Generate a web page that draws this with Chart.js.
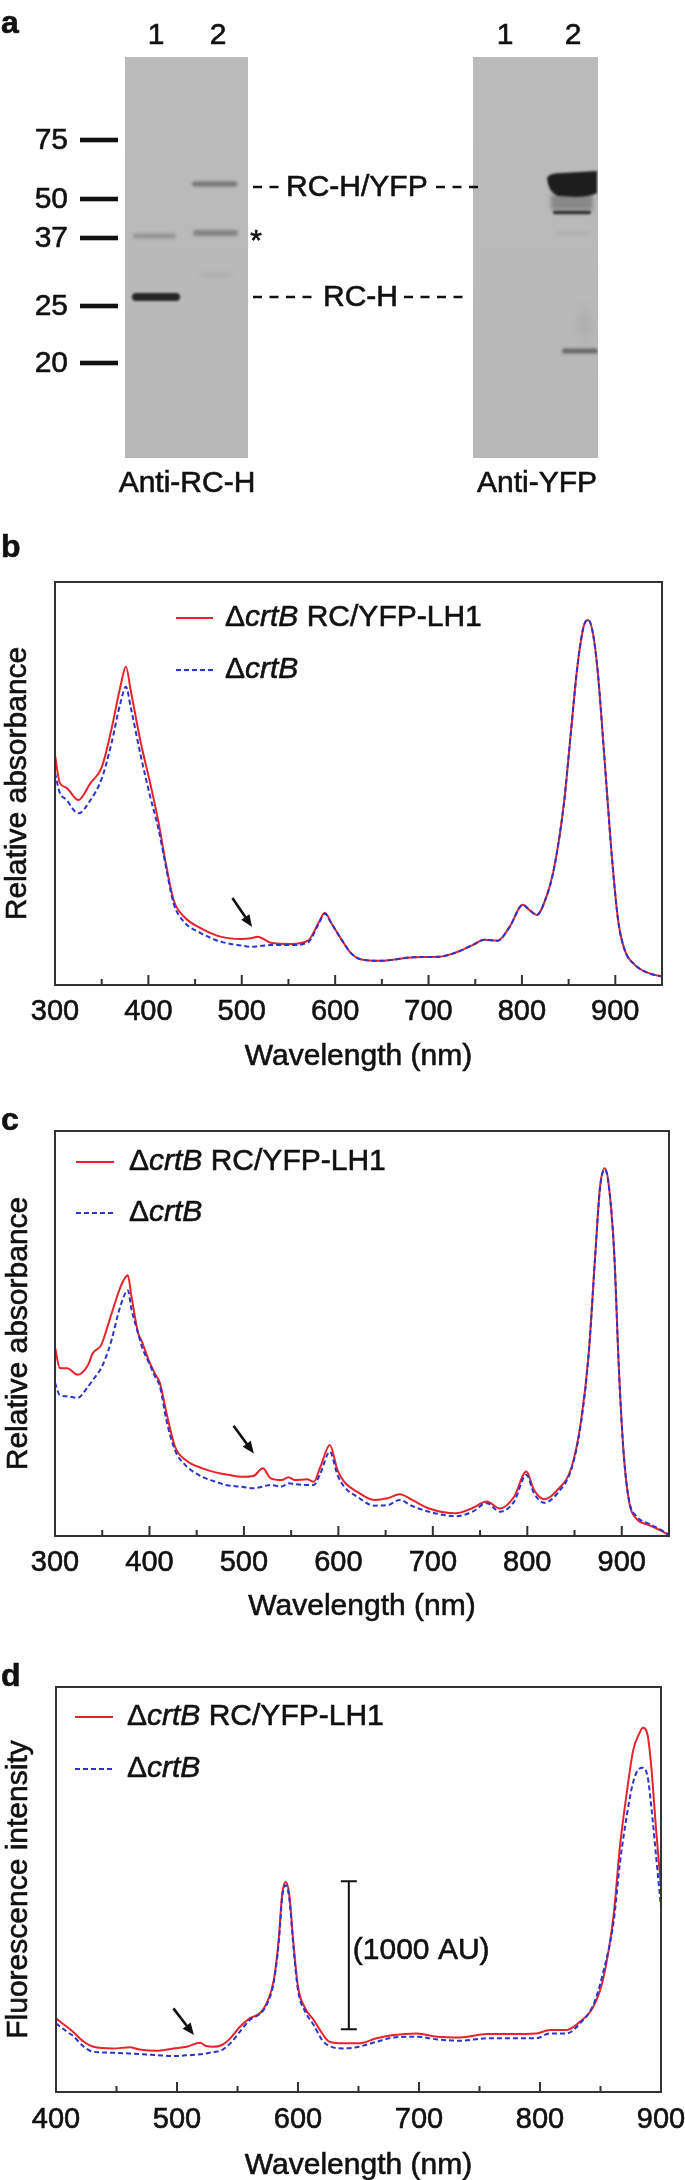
<!DOCTYPE html>
<html>
<head>
<meta charset="utf-8">
<script src="https://cdn.jsdelivr.net/npm/chart.js@4.4.1/dist/chart.umd.min.js"></script>
<style>
  html, body { margin: 0; padding: 0; background: #fff; overflow: hidden; }
  #page { position: relative; width: 685px; height: 2180px; }
  canvas { position: absolute; left: 0; }
</style>
</head>
<body>
<div id="page">
  <canvas id="blot" width="685" height="520" style="top:0"></canvas>
  <canvas id="chartB" width="685" height="560" style="top:520px"></canvas>
  <canvas id="chartC" width="685" height="550" style="top:1080px"></canvas>
  <canvas id="chartD" width="685" height="550" style="top:1630px"></canvas>
</div>
<script>
// ---- data ----
const legendLabels = ['ΔcrtB RC/YFP-LH1', 'ΔcrtB'];
const markerLabels = ['75', '50', '37', '25', '20'];
const laneLabels = ['1', '2'];
const blotTitles = ['Anti-RC-H', 'Anti-YFP'];
const bandLabels = ['RC-H/YFP', 'RC-H'];

const absTicks = [300, 400, 500, 600, 700, 800, 900];
const absMinorTicks = [350, 450, 550, 650, 750, 850];
const flTicks = [400, 500, 600, 700, 800, 900];
const flMinorTicks = [450, 550, 650, 750, 850];

// b: whole-cell absorbance (relative units)
const wavelengthsB = [300,305,312,325,338,350,360,370,376,381,392,402,411,418,427,438,456,477,499,510,517,531,553,571,582,589,596,607,617,627,649,685,711,732,747,760,774,787,801,808,816,825,834,845,852,859,866,871,876,881,888,896,903,910,921,935,950];
const mutantB = [57.1,50.2,49.0,45.9,50.1,54.0,63.0,74.0,79.0,73.2,60.0,50.0,40.2,31.0,21.1,17.0,14.1,12.0,11.4,11.6,12.0,10.5,10.2,11.0,15.3,17.9,15.3,11.2,7.9,6.4,6.0,6.9,7.0,8.3,9.9,11.2,11.0,14.5,19.9,18.6,17.4,21.1,28.5,45.1,61.6,78.2,88.9,90.6,87.3,78.2,57.5,32.7,16.1,8.7,5.0,3.0,2.1];
const controlB = [52.6,47.8,46.0,42.6,45.9,51.2,59.5,69.9,74.0,69.0,56.7,46.7,38.5,30.3,20.3,15.7,12.9,10.8,9.8,9.5,9.6,9.9,9.9,10.6,15.0,17.7,15.3,11.2,7.9,6.4,6.0,6.9,7.0,8.3,9.9,11.2,11.0,14.5,19.9,18.6,17.4,21.1,28.5,45.1,61.6,78.2,88.9,90.6,87.3,78.2,57.5,32.7,16.1,8.7,5.0,3.0,2.1];

// c: membrane absorbance (relative units)
const wavelengthsC = [300,305,313,324,335,340,349,356,360,367,371,377,381,388,392,399,406,411,418,427,438,456,474,481,499,510,520,528,540,547,554,567,574,581,591,599,606,620,638,652,665,678,696,724,742,757,771,786,799,807,818,832,847,857,865,872,877,882,886,892,897,902,908,915,929,940,950];
const mutantC = [46.7,41.5,41.4,39.8,42.2,45.1,47.2,52.0,55.0,60.0,62.4,64.4,59.1,50.1,48.0,43.5,40.0,37.8,30.4,22.1,18.8,16.7,15.5,15.2,14.6,14.8,16.7,14.3,13.8,14.5,13.8,14.0,13.4,17.1,22.5,16.3,13.4,10.9,8.9,9.3,10.3,8.9,6.8,5.6,6.9,8.5,6.8,9.7,15.9,11.4,9.1,11.4,17.1,28.6,45.1,69.8,86.2,90.8,87.1,69.8,41.0,20.4,8.1,4.4,2.7,1.5,0.2];
const controlC = [37.8,34.8,34.5,34.1,36.9,38.5,41.5,45.5,48.5,55.0,58.0,60.7,56.0,50.0,46.7,43.0,39.3,37.0,28.5,21.2,17.5,14.6,13.1,12.6,12.1,11.8,12.2,12.6,12.2,13.0,12.8,12.6,12.6,15.5,20.8,15.1,12.2,9.7,7.5,7.6,8.9,7.4,6.0,4.9,6.0,8.1,6.0,8.5,15.1,10.6,8.2,10.6,16.8,28.2,45.0,69.5,86.0,90.5,87.0,69.8,41.0,20.4,8.5,5.0,3.0,1.7,0.3];

// d: fluorescence emission (AU)
const wavelengthsD = [400,409,414,423,431,447,461,469,483,497,508,519,524,530,537,544,552,560,569,574,580,584,587,590,593,596,600,606,613,620,626,638,650,665,679,698,715,734,756,775,797,808,822,833,844,852,861,866,872,877,882,885,889,892,896,900];
const mutantD = [498,441,408,340,306,295,302,288,279,295,306,333,311,306,318,363,441,498,536,599,757,1027,1343,1421,1320,1027,712,565,487,396,340,329,329,363,385,396,374,369,392,392,396,419,419,475,576,757,1207,1657,2041,2311,2424,2464,2412,2198,1770,1387];
const controlD = [464,408,380,306,272,266,260,257,250,243,248,255,261,270,284,329,408,487,532,588,745,1005,1320,1399,1297,1005,689,543,453,351,311,295,306,340,369,374,356,347,363,363,363,396,396,464,588,802,1162,1545,1883,2097,2187,2194,2131,1928,1590,1252];

// arrows pointing at the 520 nm feature, in data units [x0, y0, x1, y1]
const arrowB = [490, 21.6, 511, 14.4];
const arrowC = [489, 27.2, 510.5, 20.4];
const arrowD = [497, 566, 514, 385];
// scale bar in d: wavelength position, start value, length (AU)
const scaleBarD = [642, 425, 1000];

const RED = '#e8232b';
const BLUE = '#2b34cc';
const INK = '#111';
const FONT = '"Liberation Sans", Arial, Helvetica, sans-serif';
const TEXT_SX = 1;

// fill plus a hairline stroke so the glyphs get the weight of the scanned figure
function inkText(ctx, str, x, y) {
  ctx.fillText(str, x, y);
  ctx.lineWidth = 0.6;
  ctx.strokeStyle = INK;
  ctx.strokeText(str, x, y);
}

function drawText(ctx, str, x, y, font, align, baseline) {
  ctx.save();
  ctx.font = font;
  ctx.fillStyle = INK;
  ctx.textAlign = align || 'left';
  ctx.textBaseline = baseline || 'middle';
  ctx.translate(x, y);
  ctx.scale(TEXT_SX, 1);
  inkText(ctx, str, 0, 0);
  ctx.restore();
}

function drawLegendText(ctx, label, x, y) {
  const m = label.match(/^(Δ)(\S+)(.*)$/);
  ctx.save();
  ctx.translate(x, y);
  ctx.scale(TEXT_SX, 1);
  ctx.fillStyle = INK;
  ctx.textBaseline = 'middle';
  let cx = 0;
  ctx.font = '30px ' + FONT;
  inkText(ctx, m[1], cx, 0);
  cx += ctx.measureText(m[1]).width;
  ctx.font = 'italic 30px ' + FONT;
  inkText(ctx, m[2], cx, 0);
  cx += ctx.measureText(m[2]).width;
  if (m[3]) {
    ctx.font = '30px ' + FONT;
    inkText(ctx, m[3], cx, 0);
  }
  ctx.restore();
}

function drawArrow(ctx, x0, y0, x1, y1) {
  const ang = Math.atan2(y1 - y0, x1 - x0);
  const len = 12, half = 5;
  ctx.save();
  ctx.strokeStyle = INK;
  ctx.fillStyle = INK;
  ctx.lineWidth = 2.6;
  ctx.beginPath();
  ctx.moveTo(x0, y0);
  ctx.lineTo(x1 - Math.cos(ang) * len * 0.8, y1 - Math.sin(ang) * len * 0.8);
  ctx.stroke();
  ctx.beginPath();
  ctx.moveTo(x1, y1);
  ctx.lineTo(x1 - Math.cos(ang) * len - Math.sin(ang) * half, y1 - Math.sin(ang) * len + Math.cos(ang) * half);
  ctx.lineTo(x1 - Math.cos(ang) * len + Math.sin(ang) * half, y1 - Math.sin(ang) * len - Math.cos(ang) * half);
  ctx.closePath();
  ctx.fill();
  ctx.restore();
}

// frame, inward ticks, labels, legend, letter and annotations for one panel
function makeDecor(cfg) {
  return {
    id: 'panelDecor',
    afterDatasetsDraw(chart) {
      const ctx = chart.ctx;
      const a = chart.chartArea;
      const xs = chart.scales.x, ys = chart.scales.y;
      ctx.save();
      ctx.strokeStyle = '#333';
      ctx.lineWidth = 2;
      ctx.strokeRect(a.left, a.top, a.right - a.left, a.bottom - a.top);
      ctx.beginPath();
      cfg.major.forEach(v => {
        const px = xs.getPixelForValue(v);
        ctx.moveTo(px, a.bottom);
        ctx.lineTo(px, a.bottom - 10);
      });
      cfg.minor.forEach(v => {
        const px = xs.getPixelForValue(v);
        ctx.moveTo(px, a.bottom);
        ctx.lineTo(px, a.bottom - 6);
      });
      ctx.stroke();
      ctx.restore();

      cfg.major.forEach(v => {
        drawText(ctx, String(v), xs.getPixelForValue(v), a.bottom + cfg.tickGap, '29px ' + FONT, 'center');
      });
      drawText(ctx, 'Wavelength (nm)', (a.left + a.right) / 2, a.bottom + cfg.titleGap, '30px ' + FONT, 'center');

      ctx.save();
      ctx.translate(cfg.yTitleX, (a.top + a.bottom) / 2);
      ctx.rotate(-Math.PI / 2);
      ctx.font = '30px ' + FONT;
      ctx.fillStyle = INK;
      ctx.textAlign = 'center';
      ctx.textBaseline = 'middle';
      inkText(ctx, cfg.yTitle, 0, 0);
      ctx.restore();

      drawText(ctx, cfg.letter, 1, cfg.letterY, 'bold 32px ' + FONT, 'left', 'alphabetic');

      // legend
      const lg = cfg.legend;
      ctx.save();
      ctx.lineWidth = 2;
      ctx.strokeStyle = RED;
      ctx.beginPath();
      ctx.moveTo(lg[0], lg[3]);
      ctx.lineTo(lg[1], lg[3]);
      ctx.stroke();
      ctx.strokeStyle = BLUE;
      ctx.setLineDash([5, 3]);
      ctx.beginPath();
      ctx.moveTo(lg[0], lg[4]);
      ctx.lineTo(lg[1], lg[4]);
      ctx.stroke();
      ctx.restore();
      drawLegendText(ctx, legendLabels[0], lg[2], lg[3]);
      drawLegendText(ctx, legendLabels[1], lg[2], lg[4]);

      const ar = cfg.arrow;
      drawArrow(ctx, xs.getPixelForValue(ar[0]), ys.getPixelForValue(ar[1]),
        xs.getPixelForValue(ar[2]), ys.getPixelForValue(ar[3]));

      if (cfg.scaleBar) {
        const sb = cfg.scaleBar;
        const px = xs.getPixelForValue(sb[0]);
        const y0 = ys.getPixelForValue(sb[1]);
        const y1 = ys.getPixelForValue(sb[1] + sb[2]);
        ctx.save();
        ctx.strokeStyle = INK;
        ctx.lineWidth = 2;
        ctx.beginPath();
        ctx.moveTo(px, y0); ctx.lineTo(px, y1);
        ctx.moveTo(px - 8, y0); ctx.lineTo(px + 8, y0);
        ctx.moveTo(px - 8, y1); ctx.lineTo(px + 8, y1);
        ctx.stroke();
        ctx.restore();
        drawText(ctx, '(' + sb[2] + ' AU)', px + 4, (y0 + y1) / 2 - 5, '30px ' + FONT, 'left');
      }
    }
  };
}

function spectrumChart(id, waves, mutant, control, xMin, xMax, yMax, pad, cfg) {
  return new Chart(document.getElementById(id), {
    type: 'line',
    data: {
      datasets: [
        {
          label: legendLabels[0],
          data: waves.map((w, i) => ({x: w, y: mutant[i]})),
          borderColor: RED,
          borderWidth: 2,
          pointRadius: 0,
          cubicInterpolationMode: 'monotone',
          order: 2
        },
        {
          label: legendLabels[1],
          data: waves.map((w, i) => ({x: w, y: control[i]})),
          borderColor: BLUE,
          borderWidth: 2,
          borderDash: [5, 3],
          pointRadius: 0,
          cubicInterpolationMode: 'monotone',
          order: 1
        }
      ]
    },
    options: {
      responsive: false,
      animation: false,
      events: [],
      layout: {padding: pad},
      scales: {
        x: {type: 'linear', min: xMin, max: xMax, display: false},
        y: {type: 'linear', min: 0, max: yMax, display: false}
      },
      plugins: {legend: {display: false}, tooltip: {enabled: false}}
    },
    plugins: [makeDecor(cfg)]
  });
}

// ---- panel a: western blots ----
function bandShape(ctx, x0, x1, yc, h, alpha, blur) {
  const r = h / 2;
  ctx.save();
  ctx.filter = 'blur(' + blur + 'px)';
  ctx.fillStyle = 'rgba(22,22,22,' + alpha + ')';
  ctx.beginPath();
  ctx.moveTo(x0 + r, yc - r);
  ctx.lineTo(x1 - r, yc - r);
  ctx.arc(x1 - r, yc, r, -Math.PI / 2, Math.PI / 2);
  ctx.lineTo(x0 + r, yc + r);
  ctx.arc(x0 + r, yc, r, Math.PI / 2, Math.PI * 1.5);
  ctx.fill();
  ctx.restore();
}

function drawBlot() {
  const ctx = document.getElementById('blot').getContext('2d');
  ctx.fillStyle = '#fff';
  ctx.fillRect(0, 0, 685, 520);

  const gels = [[125, 248], [473, 598]];
  const top = 57, bottom = 458;
  gels.forEach(g => {
    const grad = ctx.createLinearGradient(0, top, 0, bottom);
    grad.addColorStop(0, '#bbbbbb');
    grad.addColorStop(1, '#b7b7b7');
    ctx.fillStyle = grad;
    ctx.fillRect(g[0], top, g[1] - g[0], bottom - top);
  });

  // left gel (anti-RC-H)
  ctx.save();
  ctx.beginPath();
  ctx.rect(125, top, 123, bottom - top);
  ctx.clip();
  bandShape(ctx, 133, 176, 236, 5, 0.22, 1.6);
  bandShape(ctx, 132, 180, 297, 8, 0.9, 1.3);
  bandShape(ctx, 192, 237, 184, 5, 0.42, 1.5);
  bandShape(ctx, 193, 238, 233, 6, 0.32, 1.7);
  bandShape(ctx, 200, 232, 275, 4, 0.07, 2);
  ctx.restore();

  // right gel (anti-YFP)
  ctx.save();
  ctx.beginPath();
  ctx.rect(473, top, 125, bottom - top);
  ctx.clip();
  ctx.save();
  ctx.filter = 'blur(2px)';
  ctx.fillStyle = 'rgba(22,22,22,0.3)';
  ctx.fillRect(551, 194, 42, 16);
  ctx.restore();
  ctx.save();
  ctx.filter = 'blur(1.2px)';
  ctx.fillStyle = '#1d1d1d';
  ctx.beginPath();
  ctx.moveTo(547, 178);
  ctx.quadraticCurveTo(549, 173, 562, 173);
  ctx.lineTo(597, 171);
  ctx.lineTo(597, 193);
  ctx.quadraticCurveTo(590, 197, 575, 197);
  ctx.lineTo(558, 196);
  ctx.quadraticCurveTo(548, 192, 547, 178);
  ctx.closePath();
  ctx.fill();
  ctx.restore();
  bandShape(ctx, 553, 591, 212.5, 3.5, 0.85, 0.8);
  bandShape(ctx, 556, 590, 233, 3, 0.07, 1.5);
  bandShape(ctx, 577, 592, 325, 40, 0.05, 3);
  bandShape(ctx, 562, 598, 351, 5, 0.5, 1.4);
  ctx.restore();

  // molecular weight markers
  const markerY = [140, 199, 238, 306, 363];
  ctx.fillStyle = '#111';
  markerLabels.forEach((lab, i) => {
    ctx.fillRect(80, markerY[i] - 2.3, 38, 4.6);
    drawText(ctx, lab, 68, markerY[i] + 1, '30px ' + FONT, 'right');
  });

  // lane numbers and blot titles
  [156, 218].forEach((x, i) => drawText(ctx, laneLabels[i], x, 36, '30px ' + FONT, 'center'));
  [505, 573].forEach((x, i) => drawText(ctx, laneLabels[i], x, 36, '30px ' + FONT, 'center'));
  drawText(ctx, blotTitles[0], 187, 484, '30px ' + FONT, 'center');
  drawText(ctx, blotTitles[1], 537, 484, '30px ' + FONT, 'center');

  // band labels with dashed leaders
  ctx.save();
  ctx.strokeStyle = '#111';
  ctx.lineWidth = 2.4;
  ctx.setLineDash([9, 7.5]);
  ctx.beginPath();
  ctx.moveTo(253, 187); ctx.lineTo(283, 187);
  ctx.moveTo(436, 187); ctx.lineTo(478, 187);
  ctx.moveTo(253, 297); ctx.lineTo(316, 297);
  ctx.moveTo(404, 297); ctx.lineTo(470, 297);
  ctx.stroke();
  ctx.restore();
  drawText(ctx, bandLabels[0], 286, 188, '30px ' + FONT, 'left');
  drawText(ctx, bandLabels[1], 323, 298, '30px ' + FONT, 'left');
  drawText(ctx, '*', 256, 250, '30px ' + FONT, 'center', 'alphabetic');

  drawText(ctx, 'a', 1, 33, 'bold 32px ' + FONT, 'left', 'alphabetic');
}

drawBlot();

spectrumChart('chartB', wavelengthsB, mutantB, controlB, 300, 950, 100,
  {left: 55, top: 62, right: 23, bottom: 95},
  {major: absTicks, minor: absMinorTicks, tickGap: 27, titleGap: 72,
   yTitle: 'Relative absorbance', yTitleX: 18, letter: 'b', letterY: 37,
   legend: [176, 213, 225, 98, 150], arrow: arrowB});

spectrumChart('chartC', wavelengthsC, mutantC, controlC, 300, 950, 100,
  {left: 55, top: 51, right: 16, bottom: 94},
  {major: absTicks, minor: absMinorTicks, tickGap: 27, titleGap: 71,
   yTitle: 'Relative absorbance', yTitleX: 19, letter: 'c', letterY: 50,
   legend: [76, 114, 129, 82, 133], arrow: arrowC});

spectrumChart('chartD', wavelengthsD, mutantD, controlD, 400, 900, 2740,
  {left: 56, top: 57, right: 24, bottom: 88},
  {major: flTicks, minor: flMinorTicks, tickGap: 28, titleGap: 74,
   yTitle: 'Fluorescence intensity', yTitleX: 19, letter: 'd', letterY: 56,
   legend: [75, 113, 127, 87, 139], arrow: arrowD, scaleBar: scaleBarD});
</script>
</body>
</html>
